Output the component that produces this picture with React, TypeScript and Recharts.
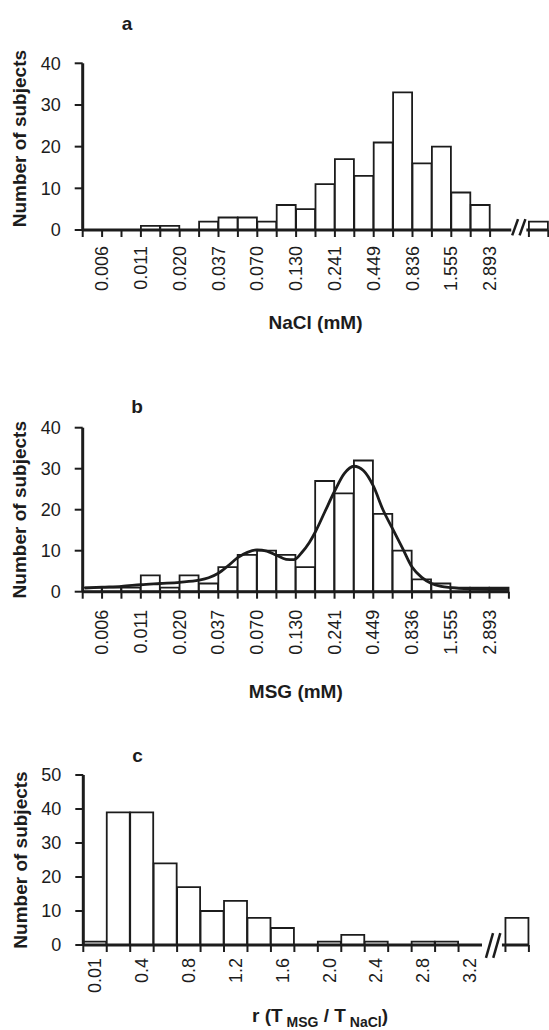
import React from 'react';
import { ComposedChart, Bar, Line, XAxis, YAxis, ReferenceLine, Label } from 'recharts';

const FONT = '"Liberation Sans", Arial, Helvetica, sans-serif';
const INK = '#1c1c1c';

// ---------- Panel a : NaCl ----------
const naclCounts: (number | null)[] = [0, 0, 0, 1, 1, 0, 2, 3, 3, 2, 6, 5, 11, 17, 13, 21, 33, 16, 20, 9, 6, 0, null, 2];
const naclTickLabels = ['0.006', '0.011', '0.020', '0.037', '0.070', '0.130', '0.241', '0.449', '0.836', '1.555', '2.893'];
const naclLabelAt = [1, 3, 5, 7, 9, 11, 13, 15, 17, 19, 21];
const naclTickMarks = [0, 1, 2, 3, 4, 5, 6, 7, 8, 9, 10, 11, 12, 13, 14, 15, 16, 17, 18, 19, 20, 21, 23, 24];
const naclBreak = [22.09, 22.87];

// ---------- Panel b : MSG ----------
const msgCounts = [1, 1, 1, 4, 1, 4, 2, 6, 9, 10, 9, 6, 27, 24, 32, 19, 10, 3, 2, 1, 1, 1];
const msgTickLabels = ['0.006', '0.011', '0.020', '0.037', '0.070', '0.130', '0.241', '0.449', '0.836', '1.555', '2.893'];
const msgLabelAt = [1, 3, 5, 7, 9, 11, 13, 15, 17, 19, 21];
const msgTickMarks = [0, 1, 2, 3, 4, 5, 6, 7, 8, 9, 10, 11, 12, 13, 14, 15, 16, 17, 18, 19, 20, 21, 22];
const msgCurveX = [0.1, 1, 2, 3, 4, 5, 6, 6.5, 7, 7.5, 8, 8.5, 9, 9.5, 10, 10.5, 10.9, 11.3, 11.7, 12, 12.5, 13, 13.5, 14, 14.5, 15, 15.5, 16, 16.5, 17, 17.5, 18, 18.5, 19, 20, 21, 22];
const msgCurveY = [0.9, 1.1, 1.3, 1.7, 2.0, 2.3, 2.8, 3.4, 4.5, 6.3, 8.3, 9.6, 10.2, 9.9, 8.9, 7.9, 7.8, 9.5, 12.0, 14.5, 19.5, 24.5, 28.8, 30.6, 29.5, 25.8, 20.0, 15.3, 10.7, 6.0, 3.5, 2.0, 1.3, 1.0, 0.7, 0.6, 0.6];

// ---------- Panel c : ratio ----------
const ratioCounts: (number | null)[] = [1, 39, 39, 24, 17, 10, 13, 8, 5, 0, 1, 3, 1, 0, 1, 1, 0, null, 8];
const ratioTickLabels = ['0.01', '0.4', '0.8', '1.2', '1.6', '2.0', '2.4', '2.8', '3.2'];
const ratioLabelAt = [0, 2, 4, 6, 8, 10, 12, 14, 16];
const ratioTickMarks = [0, 1, 2, 3, 4, 5, 6, 7, 8, 9, 10, 11, 12, 13, 14, 15, 16, 18, 19];
const ratioBreak = [17.0, 17.85];

const countTicks40 = [0, 10, 20, 30, 40];
const countTicks50 = [0, 10, 20, 30, 40, 50];

const toBins = (counts: (number | null)[]) => counts.map((v, i) => ({ x: i + 0.5, v }));
const naclData = toBins(naclCounts);
const msgData = toBins(msgCounts);
const ratioData = toBins(ratioCounts);
const msgCurve = msgCurveX.map((x, i) => ({ x, y: msgCurveY[i] }));

const labelMap = (at: number[], labels: string[]) => {
  const m: Record<number, string> = {};
  at.forEach((p, i) => { m[p] = labels[i]; });
  return m;
};

// layout constants
const W = 549;
const C_LEFT = 83.3;
const C_RIGHT = 20.1;
const C_CATS = 19;
const C_CAT_W = (W - C_LEFT - C_RIGHT) / C_CATS;

const rotTick = (labels: Record<number, string>, dx: number) => (props: any) => {
  const { x, y, payload } = props;
  const t = labels[payload.value];
  if (t === undefined) return <g />;
  const tx = x + dx;
  return (
    <text x={tx} y={y} transform={`rotate(-90 ${tx} ${y})`} textAnchor="end" dominantBaseline="central"
      fontSize={18} fontFamily={FONT} fill={INK}>{t}</text>
  );
};

const yTitle = (dy: number) => (props: any) => {
  const vb = props.viewBox || {};
  const cx = 26.5;
  const cy = vb.y + vb.height / 2 + dy;
  return (
    <text x={cx} y={cy} transform={`rotate(-90 ${cx} ${cy})`} textAnchor="middle" fontFamily={FONT}
      fontWeight="bold" fontSize={19} fill={INK}>Number of subjects</text>
  );
};

const letter = (s: string, x: number, y: number) => () => (
  <text x={x} y={y} textAnchor="middle" fontFamily={FONT} fontWeight="bold" fontSize={19} fill={INK}>{s}</text>
);

const xTitle = (s: string, dy: number, dx = 0) => (props: any) => {
  const vb = props.viewBox || {};
  return (
    <text x={vb.x + vb.width / 2 + dx} y={vb.y + dy} textAnchor="middle" fontFamily={FONT} fontWeight="bold"
      fontSize={19} fill={INK}>{s}</text>
  );
};

const ratioTitle = (dy: number, dx: number) => (props: any) => {
  const vb = props.viewBox || {};
  return (
    <text x={vb.x + vb.width / 2 + dx} y={vb.y + dy} textAnchor="middle" fontFamily={FONT} fontWeight="bold"
      fontSize={19} fill={INK}>
      r (T<tspan fontSize={14} dy={5}> MSG</tspan>
      <tspan dy={-5}> / T</tspan>
      <tspan fontSize={14} dy={5}> NaCl</tspan>
      <tspan dy={-5}>)</tspan>
    </text>
  );
};

const tickLineStyle = { stroke: INK, strokeWidth: 2 };
const yTickStyle = { fontSize: 18, fill: INK, fontFamily: FONT };

export default function App() {
  return (
    <div style={{ position: 'absolute', left: 0, top: 0, width: W, height: 1030, background: '#fff' }}>
      {/* Panel a */}
      <div style={{ position: 'absolute', left: 0, top: 0 }}>
        <ComposedChart width={W} height={340} data={naclData} margin={{ top: 63.3, right: 0.7, bottom: 0, left: 0 }}
          barCategoryGap={0} barGap={0}>
          <XAxis type="number" dataKey="x" domain={[0, 24]} ticks={naclTickMarks} interval={0} height={110}
            tickSize={7} tickMargin={9} axisLine={false} tickLine={tickLineStyle}
            tick={rotTick(labelMap(naclLabelAt, naclTickLabels), 0)}>
            <Label content={xTitle('NaCl (mM)', 99)} />
          </XAxis>
          <YAxis type="number" domain={[0, 40]} ticks={countTicks40} interval={0} width={82.7} tickSize={8}
            tickMargin={14} axisLine={{ stroke: INK, strokeWidth: 3 }} tickLine={tickLineStyle} tick={yTickStyle}>
            <Label content={yTitle(-8)} />
            <Label content={letter('a', 127, 30)} />
          </YAxis>
          <Bar dataKey="v" fill="#fff" stroke={INK} strokeWidth={1.8} isAnimationActive={false} />
          <ReferenceLine segment={[{ x: 0, y: 0 }, { x: naclBreak[0], y: 0 }]} stroke={INK} strokeWidth={3} ifOverflow="visible" />
          <ReferenceLine segment={[{ x: naclBreak[1], y: 0 }, { x: 24, y: 0 }]} stroke={INK} strokeWidth={3} ifOverflow="visible" />
          <ReferenceLine segment={[{ x: 22.14, y: -1.3 }, { x: 22.44, y: 2.6 }]} stroke={INK} strokeWidth={2.5} ifOverflow="visible" />
          <ReferenceLine segment={[{ x: 22.52, y: -1.3 }, { x: 22.82, y: 2.6 }]} stroke={INK} strokeWidth={2.5} ifOverflow="visible" />
        </ComposedChart>
      </div>

      {/* Panel b */}
      <div style={{ position: 'absolute', left: 0, top: 340 }}>
        <ComposedChart width={W} height={370} data={msgData} margin={{ top: 87.7, right: 40.1, bottom: 0, left: 0 }}
          barCategoryGap={0} barGap={0}>
          <XAxis xAxisId="bars" type="number" dataKey="x" domain={[0, 22]} ticks={msgTickMarks} interval={0}
            height={118.3} tickSize={7} tickMargin={11} axisLine={{ stroke: INK, strokeWidth: 3 }} tickLine={tickLineStyle}
            tick={rotTick(labelMap(msgLabelAt, msgTickLabels), 0)}>
            <Label content={xTitle('MSG (mM)', 106)} />
          </XAxis>
          <XAxis xAxisId="curve" type="number" dataKey="x" domain={[0, 22]} hide />
          <YAxis type="number" domain={[0, 40]} ticks={countTicks40} interval={0} width={82.7} tickSize={8}
            tickMargin={14} axisLine={{ stroke: INK, strokeWidth: 3 }} tickLine={tickLineStyle} tick={yTickStyle}>
            <Label content={yTitle(0)} />
            <Label content={letter('b', 137, 73)} />
          </YAxis>
          <Bar xAxisId="bars" dataKey="v" fill="#fff" stroke={INK} strokeWidth={1.8} isAnimationActive={false} />
          <Line xAxisId="curve" data={msgCurve} dataKey="y" type="monotone" dot={false} stroke={INK}
            strokeWidth={2.8} isAnimationActive={false} />
        </ComposedChart>
      </div>

      {/* Panel c */}
      <div style={{ position: 'absolute', left: 0, top: 700 }}>
        <ComposedChart width={W} height={330} data={ratioData} margin={{ top: 75, right: C_RIGHT, bottom: 0, left: 0 }}
          barCategoryGap={0} barGap={0}>
          <XAxis type="number" dataKey="x" domain={[0, C_CATS]} ticks={ratioTickMarks} interval={0} height={85}
            tickSize={7} tickMargin={6} axisLine={false} tickLine={tickLineStyle}
            tick={rotTick(labelMap(ratioLabelAt, ratioTickLabels), C_CAT_W / 2)}>
            <Label content={ratioTitle(77, 14)} />
          </XAxis>
          <YAxis type="number" domain={[0, 50]} ticks={countTicks50} interval={0} width={C_LEFT} tickSize={8}
            tickMargin={14} axisLine={{ stroke: INK, strokeWidth: 3 }} tickLine={tickLineStyle} tick={yTickStyle}>
            <Label content={yTitle(0)} />
            <Label content={letter('c', 137.5, 62)} />
          </YAxis>
          <Bar dataKey="v" fill="#fff" stroke={INK} strokeWidth={1.8} isAnimationActive={false} />
          <ReferenceLine segment={[{ x: 0, y: 0 }, { x: ratioBreak[0], y: 0 }]} stroke={INK} strokeWidth={3} ifOverflow="visible" />
          <ReferenceLine segment={[{ x: ratioBreak[1], y: 0 }, { x: C_CATS, y: 0 }]} stroke={INK} strokeWidth={3} ifOverflow="visible" />
          <ReferenceLine segment={[{ x: 17.17, y: -3.8 }, { x: 17.47, y: 3.5 }]} stroke={INK} strokeWidth={2.5} ifOverflow="visible" />
          <ReferenceLine segment={[{ x: 17.48, y: -3.8 }, { x: 17.78, y: 3.5 }]} stroke={INK} strokeWidth={2.5} ifOverflow="visible" />
        </ComposedChart>
      </div>
    </div>
  );
}
